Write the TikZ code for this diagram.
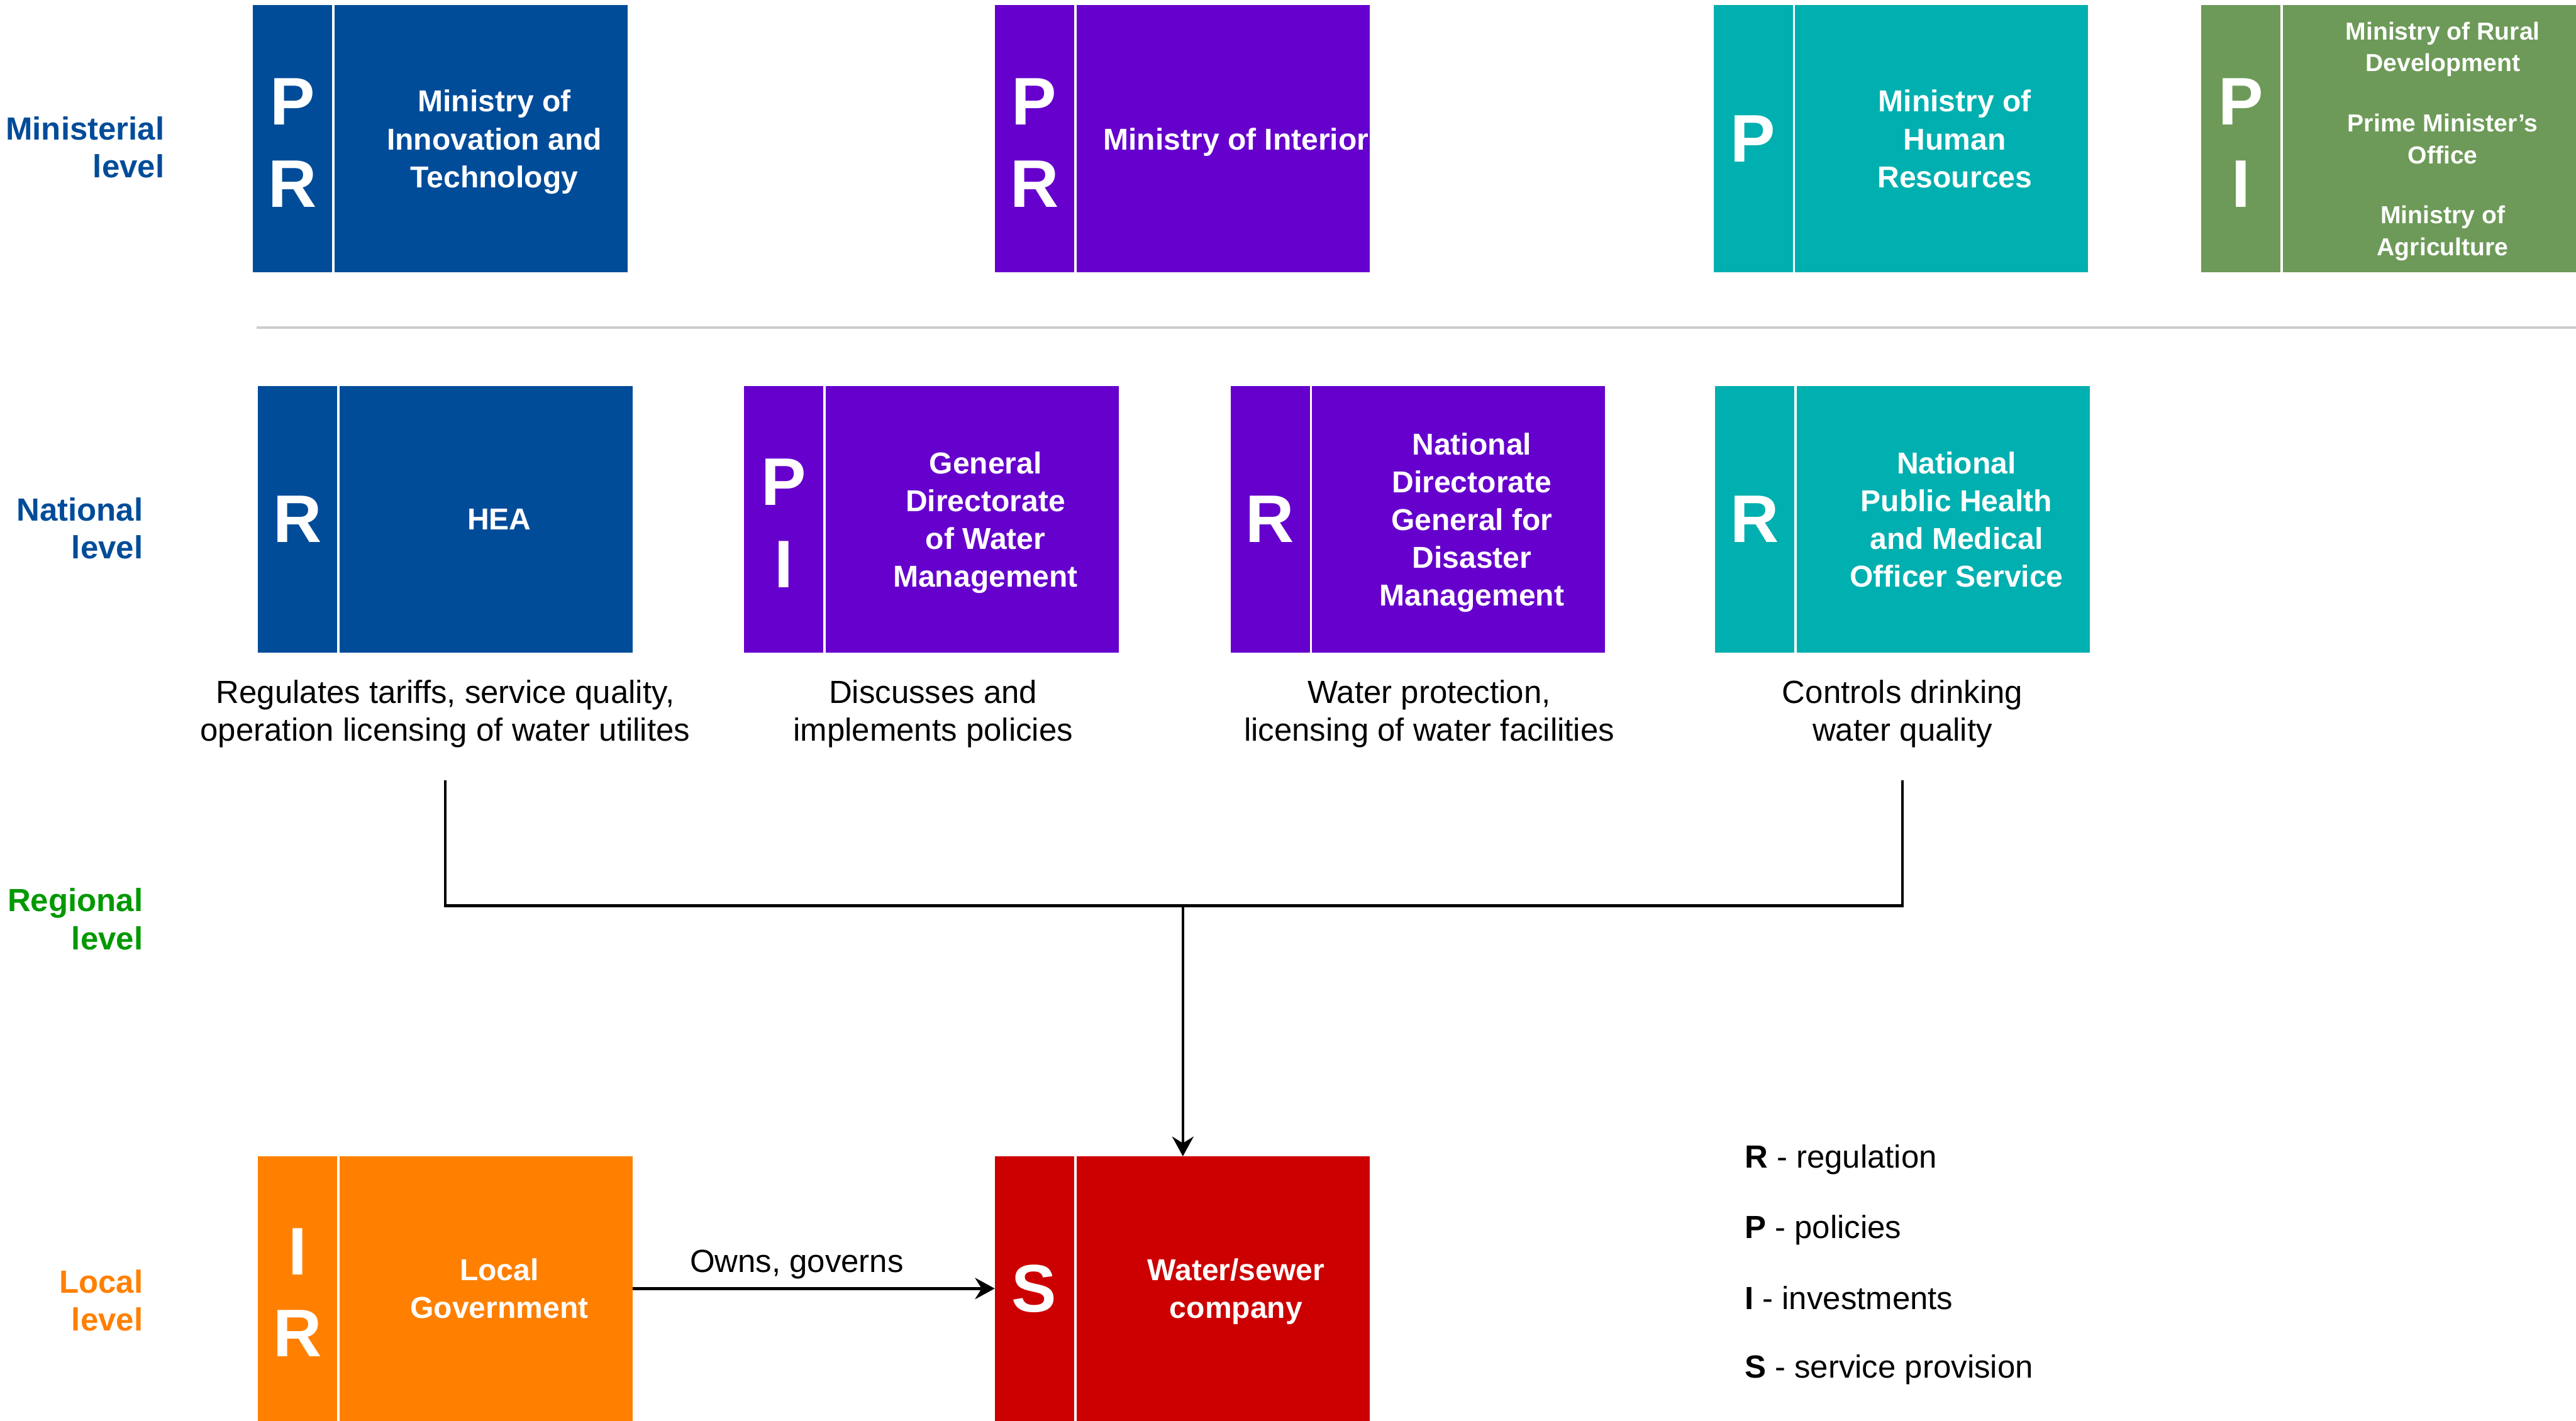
\documentclass[tikz,border=0pt]{standalone}
\usepackage{fontspec}
\setmainfont{Liberation Sans}
\usetikzlibrary{arrows.meta}
\definecolor{govblue}{HTML}{004C99}
\definecolor{govpurple}{HTML}{6600CC}
\definecolor{govteal}{HTML}{00AFAF}
\definecolor{govgreen}{HTML}{6D9A58}
\definecolor{govorange}{HTML}{FF8000}
\definecolor{govred}{HTML}{CC0000}
\definecolor{lvlgreen}{HTML}{009900}
\definecolor{sepgray}{HTML}{CCCCCC}
\begin{document}
\begin{tikzpicture}[x=0.5pt,y=-0.5pt,
  every node/.style={inner sep=0pt, outer sep=0pt},
  lettercol/.style={fill=#1, minimum width=24.1pt, anchor=north west},
  namecol/.style={fill=#1, minimum width=89.2pt, anchor=north west},
  rowtop/.style={minimum height=81.25pt},
  rownat/.style={minimum height=81.25pt},
  rowloc/.style={minimum height=80.5pt},
  letters/.style={text=white, align=center, text depth=0pt,
    font=\fontsize{20.5}{25}\bfseries\selectfont},
  boxtext/.style={text=white, align=center, text depth=0pt,
    font=\fontsize{9.2}{11.5}\bfseries\selectfont},
  smalltext/.style={text=white, align=center, text depth=0pt,
    font=\fontsize{7.5}{9.75}\bfseries\selectfont},
  desc/.style={text=black, align=center, text depth=0pt,
    font=\fontsize{9.75}{11.5}\selectfont},
  legend/.style={text=black, anchor=west, text depth=0pt,
    font=\fontsize{9.75}{11.5}\selectfont},
  levellabel/.style={text=#1, anchor=east, align=right, text depth=0pt,
    font=\fontsize{9.75}{11.5}\bfseries\selectfont},
  conn/.style={draw=black, line width=0.85pt},
  tip/.style={-{Stealth[length=6pt,width=6.5pt,inset=2pt]}},
  sepline/.style={draw=sepgray, line width=0.8pt}
]
\useasboundingbox (0,0) rectangle (1568,865);

% level labels
\node[levellabel=govblue] (lvmin) at (100,89.5) {Ministerial\\level};
\node[levellabel=govblue] (lvnat) at (87,321.5) {National\\level};
\node[levellabel=lvlgreen] (lvreg) at (87,559.5) {Regional\\level};
\node[levellabel=govorange] (lvloc) at (87,791.5) {Local\\level};

% ministerial level
\node[lettercol=govblue, rowtop] (m1l) at (154,3.2) {};
\node[letters] (m1k) at ([yshift=-1.2pt]m1l.center) {P\\R};
\node[namecol=govblue, rowtop] (m1n) at (203.7,3.2) {};
\node[boxtext] (m1t) at ([xshift=4pt]m1n.center) {Ministry of\\Innovation and\\Technology};

\node[lettercol=govpurple, rowtop] (m2l) at (605.5,3.2) {};
\node[letters] (m2k) at ([yshift=-1.2pt]m2l.center) {P\\R};
\node[namecol=govpurple, rowtop] (m2n) at (655.2,3.2) {};
\node[boxtext] (m2t) at ([xshift=4pt]m2n.center) {Ministry of Interior};

\node[lettercol=govteal, rowtop] (m3l) at (1043,3.2) {};
\node[letters] (m3k) at (m3l.center) {P};
\node[namecol=govteal, rowtop] (m3n) at (1092.7,3.2) {};
\node[boxtext] (m3t) at ([xshift=4pt]m3n.center) {Ministry of\\Human\\Resources};

\node[lettercol=govgreen, rowtop] (m4l) at (1340,3.2) {};
\node[letters] (m4k) at ([yshift=-1.2pt]m4l.center) {P\\I};
\node[namecol=govgreen, rowtop] (m4n) at (1389.7,3.2) {};
\node[smalltext] (m4t) at ([xshift=4pt]m4n.center) {Ministry of Rural\\Development\\[8.5pt]Prime Minister's\\Office\\[8.5pt]Ministry of\\Agriculture};

% separator between ministerial and national level
\draw[sepline] (156,199.5) -- (1568,199.5);

% national level
\node[lettercol=govblue, rownat] (n1l) at (157,235) {};
\node[letters] (n1k) at (n1l.center) {R};
\node[namecol=govblue, rownat] (n1n) at (206.7,235) {};
\node[boxtext] (n1t) at ([xshift=4pt]n1n.center) {HEA};

\node[lettercol=govpurple, rownat] (n2l) at (453,235) {};
\node[letters] (n2k) at ([yshift=-1.2pt]n2l.center) {P\\I};
\node[namecol=govpurple, rownat] (n2n) at (502.7,235) {};
\node[boxtext] (n2t) at ([xshift=4pt]n2n.center) {General\\Directorate\\of Water\\Management};

\node[lettercol=govpurple, rownat] (n3l) at (749,235) {};
\node[letters] (n3k) at (n3l.center) {R};
\node[namecol=govpurple, rownat] (n3n) at (798.7,235) {};
\node[boxtext] (n3t) at ([xshift=4pt]n3n.center) {National\\Directorate\\General for\\Disaster\\Management};

\node[lettercol=govteal, rownat] (n4l) at (1044,235) {};
\node[letters] (n4k) at (n4l.center) {R};
\node[namecol=govteal, rownat] (n4n) at (1093.7,235) {};
\node[boxtext] (n4t) at ([xshift=4pt]n4n.center) {National\\Public Health\\and Medical\\Officer Service};

% responsibilities
\node[desc] (d1) at (271,432.5) {Regulates tariffs, service quality,\\operation licensing of water utilites};
\node[desc] (d2) at (568,432.5) {Discusses and\\implements policies};
\node[desc] (d3) at (870,432.5) {Water protection,\\licensing of water facilities};
\node[desc] (d4) at (1158,432.5) {Controls drinking\\water quality};

% local level
\node[lettercol=govorange, rowloc] (l1l) at (157,704) {};
\node[letters] (l1k) at ([yshift=-1.2pt]l1l.center) {I\\R};
\node[namecol=govorange, rowloc] (l1n) at (206.7,704) {};
\node[boxtext] (l1t) at ([xshift=4pt]l1n.center) {Local\\Government};

\node[lettercol=govred, rowloc] (l2l) at (605.5,704) {};
\node[letters] (l2k) at (l2l.center) {S};
\node[namecol=govred, rowloc] (l2n) at (655.2,704) {};
\node[boxtext] (l2t) at ([xshift=4pt]l2n.center) {Water/sewer\\company};

% connectors
\coordinate (c1) at (271,475);
\coordinate (c2) at (1158,475);
\coordinate (j) at (720,551.5);
\draw[conn] (c1) -- (c1 |- j) -- (c2 |- j) -- (c2);
\draw[conn, tip] (j) -- (j |- l2l.north);
\draw[conn, tip] (l1n.east) -- (l2l.west);
\node[desc] (own) at (485,768) {Owns, governs};

% legend
\node[legend] (kr) at (1062,704) {\textbf{R} - regulation};
\node[legend] (kp) at (1062,747) {\textbf{P} - policies};
\node[legend] (ki) at (1062,790) {\textbf{I} - investments};
\node[legend] (ks) at (1062,832) {\textbf{S} - service provision};
\end{tikzpicture}
\end{document}
